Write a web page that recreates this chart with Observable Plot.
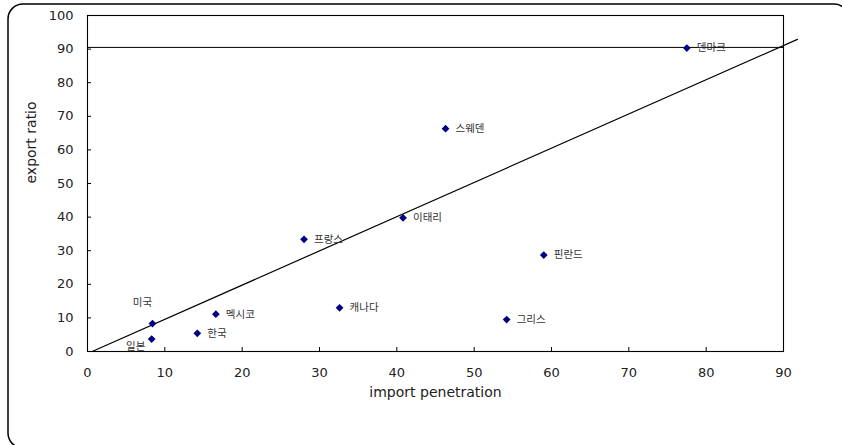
<!DOCTYPE html>
<html><head><meta charset="utf-8">
<script src="https://cdn.jsdelivr.net/npm/d3@7"></script>
<script src="https://cdn.jsdelivr.net/npm/@observablehq/plot@0.6"></script>
<style>body{margin:0;background:#fff} svg{display:block}</style>
</head><body><div id="chart"></div>
<script>
// Data
const countries   = ["덴마크", "스웨덴", "이태리", "프랑스", "핀란드", "캐나다", "그리스", "멕시코", "한국", "미국", "일본"];
const importPen   = [77.5, 46.3, 40.8, 28.0, 59.0, 32.6, 54.2, 16.6, 14.2, 8.4, 8.3];
const exportRatio = [90.3, 66.3, 39.8, 33.4, 28.7, 13.0, 9.5, 11.1, 5.4, 8.3, 3.7];
const xTicks = [0, 10, 20, 30, 40, 50, 60, 70, 80, 90];
const yTicks = [0, 10, 20, 30, 40, 50, 60, 70, 80, 90, 100];
const xTitle = "import penetration";
const yTitle = "export ratio";
// reference lines
const diagX = [0.6, 91.8];
const diagY = [0, 92.9];
const hlineY = [90.5];

const points = countries.map((name, i) => ({name, x: importPen[i], y: exportRatio[i]}));
const diag = diagX.map((x, i) => ({x, y: diagY[i]}));
const special = new Set(["미국", "일본"]);
const labelFont = {fontFamily: "'Noto Sans CJK KR', sans-serif", fontSize: 10.5, fill: "#333"};

const chart = Plot.plot({
  width: 842, height: 445,
  marginLeft: 87, marginRight: 59, marginTop: 15, marginBottom: 94,
  style: {fontFamily: "'DejaVu Sans', sans-serif", fontSize: "13px", color: "#222", background: "#fff", overflow: "visible"},
  x: {domain: [0, 90]},
  y: {domain: [0, 100]},
  marks: [
    Plot.frame({stroke: "#000", strokeWidth: 1.1}),
    Plot.axisX({ticks: xTicks, tickSize: -4, tickPadding: 20, label: null, tickFormat: d => String(d), stroke: "#000", fill: "#222", fontSize: 13}),
    Plot.axisY({ticks: yTicks, tickSize: -4, tickPadding: 18, label: null, tickFormat: d => String(d), stroke: "#000", fill: "#222", fontSize: 13}),
    Plot.ruleY(hlineY, {stroke: "#000", strokeWidth: 1}),
    Plot.line(diag, {x: "x", y: "y", stroke: "#000", strokeWidth: 1.2}),
    Plot.dot(points, {x: "x", y: "y", symbol: "diamond2", r: 3.5, fill: "#000080", stroke: null}),
    Plot.text(points.filter(d => !special.has(d.name)), {x: "x", y: "y", text: "name", dx: 10, textAnchor: "start", ...labelFont}),
    Plot.text(points.filter(d => d.name === "미국"), {x: "x", y: "y", text: "name", dx: -10, dy: -21, textAnchor: "middle", ...labelFont}),
    Plot.text(points.filter(d => d.name === "일본"), {x: "x", y: "y", text: "name", dx: -16, dy: 8, textAnchor: "middle", ...labelFont}),
    Plot.text([xTitle], {text: d => d, frameAnchor: "bottom", dy: 45, fontSize: 14, fill: "#222"}),
    Plot.text([yTitle], {text: d => d, frameAnchor: "left", dx: -56, rotate: -90, fontSize: 14, fill: "#222"})
  ]
});

// outer rounded border of the chart area
d3.select(chart).insert("rect", ":first-child")
  .attr("x", 8).attr("y", 4).attr("width", 841).attr("height", 444)
  .attr("rx", 15).attr("ry", 15)
  .attr("fill", "#fff").attr("stroke", "#000").attr("stroke-width", 1.5);

document.getElementById("chart").appendChild(chart);
</script>
</body></html>
